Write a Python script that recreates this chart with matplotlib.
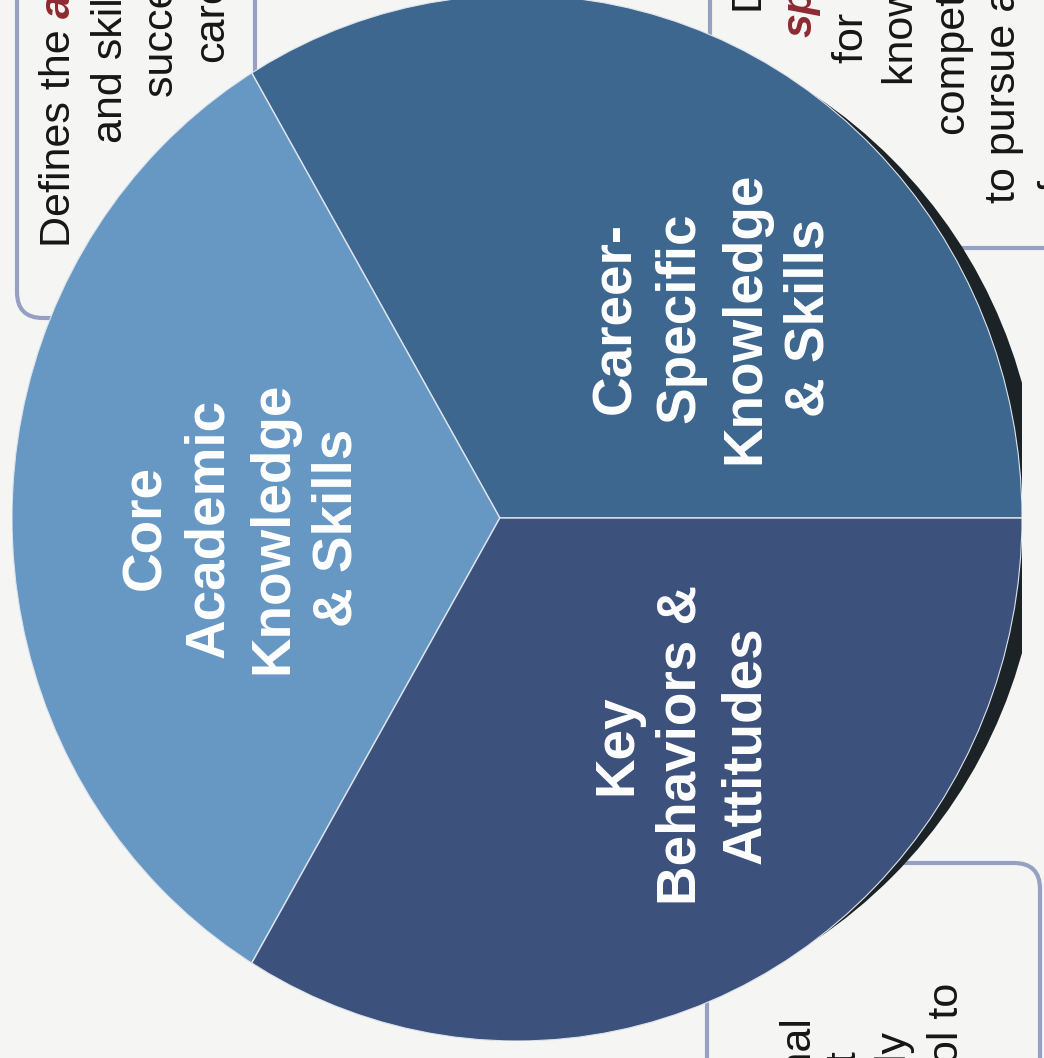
import matplotlib
matplotlib.use('Agg')
import matplotlib.pyplot as plt
from matplotlib.patches import FancyBboxPatch, Ellipse

plt.rcParams['font.family'] = ['Liberation Sans', 'DejaVu Sans']

# Pie data: three equal parts, counter-clockwise from 0 degrees.
slice_names = ['Career-\nSpecific\nKnowledge\n& Skills',
               'Core\nAcademic\nKnowledge\n& Skills',
               'Key\nBehaviors &\nAttitudes']
slice_sizes = [1, 1, 1]
slice_colors = ['#3e678f', '#6798c4', '#3c527d']

# Label lines, split per column (the scan is rotated 90 degrees).
label_lines = [['Career-', 'Specific', 'Knowledge', '& Skills'],
               ['Core', 'Academic', 'Knowledge', '& Skills'],
               ['Key', 'Behaviors &', 'Attitudes']]
label_baselines = [[630, 694, 759, 823],
                   [160, 223, 287, 352],
                   [631, 695, 760]]
label_centers = [318, 528, 745]

# Side boxes, partly cut off by the page edge.
left_box_lines = ['Defines the', 'and skills needed to', 'succeed in college and', 'careers']
left_box_baselines = [70, 122, 173, 223]
left_box_starts = [247, 143, 97, 62]

right_box_lines = ['Defines the career-', 'specific', 'for a career', 'knowledge and',
                   'competencies needed', 'to pursue a career', 'focus area']
right_box_baselines = [762, 812, 863, 913, 965, 1015, 1069]
right_box_starts = [13, 37, 63, 85, 135, 203, 192]
right_box_red = [False, True, False, False, False, False, False]

bottom_box_lines = ['personal', 'that', 'successfully', 'high school to']
bottom_box_baselines = [808, 855, 905, 958]
bottom_box_ends = [1015, 1050, 1030, 983]

W, H = 1044, 1058
fig = plt.figure(figsize=(W / 100, H / 100), dpi=100)
fig.patch.set_facecolor('#f5f5f3')

# Background layer in pixel coordinates (y grows downwards).
bg = fig.add_axes([0, 0, 1, 1])
bg.set_xlim(0, W)
bg.set_ylim(H, 0)
bg.axis('off')

box_color = '#96a0c2'
for (x0, y0, x1, y1) in [(17, -80, 255, 318), (710, -80, 1140, 248), (707, 863, 1040, 1140)]:
    bg.add_patch(FancyBboxPatch((x0, y0), x1 - x0, y1 - y0,
                                boxstyle='round,pad=0,rounding_size=26',
                                fc='none', ec=box_color, lw=3))

txt_kw = dict(rotation=90, rotation_mode='anchor', fontsize=31, color='#161616')
red_kw = dict(rotation=90, rotation_mode='anchor', fontsize=31, color='#8c2a30',
              fontweight='bold', fontstyle='italic')

for line, bx, sy in zip(left_box_lines, left_box_baselines, left_box_starts):
    bg.text(bx, sy, line, ha='left', va='baseline', **txt_kw)
bg.text(70, 18, 'academic', ha='left', va='baseline', **red_kw)

for line, bx, sy, red in zip(right_box_lines, right_box_baselines, right_box_starts, right_box_red):
    bg.text(bx, sy, line, ha='left', va='baseline', **(red_kw if red else txt_kw))

for line, bx, ey in zip(bottom_box_lines, bottom_box_baselines, bottom_box_ends):
    bg.text(bx, ey, line, ha='right', va='baseline', **txt_kw)

# Pie layer: slightly elliptical, wedge tip a little left of the centre, as in the scan.
cx, cy, rx, ry = 517, 518, 505, 523
ax = fig.add_axes([(cx - rx) / W, (H - cy - ry) / H, 2 * rx / W, 2 * ry / H])
# dark drop shadow on the right side
ax.add_patch(Ellipse((0.036, 0.0), 2.0, 1.94, fc='#1b2326', ec='none', zorder=0))
wedges, _ = ax.pie(slice_sizes, colors=slice_colors, startangle=0, counterclock=True,
                   radius=1.4, center=(-0.034, 0),
                   wedgeprops=dict(edgecolor='#dde4ec', linewidth=1.0))
outline = Ellipse((0, 0), 2.0, 2.0, transform=ax.transData)
for w in wedges:
    w.set_clip_on(True)
    w.set_clip_path(outline)
ax.add_patch(Ellipse((0, 0), 2.0, 2.0, fc='none', ec='#dde4ec', lw=0.8, zorder=3))
ax.set_aspect('auto')
ax.set_xlim(-1, 1)
ax.set_ylim(-1, 1)
ax.axis('off')

for lines, bases, yc in zip(label_lines, label_baselines, label_centers):
    for line, bx in zip(lines, bases):
        ax.text(bx, yc, line, transform=bg.transData, ha='center', va='baseline',
                rotation=90, rotation_mode='anchor', fontsize=39.5,
                fontweight='bold', color='white')

fig.savefig('out.png', dpi=100, facecolor=fig.get_facecolor())
